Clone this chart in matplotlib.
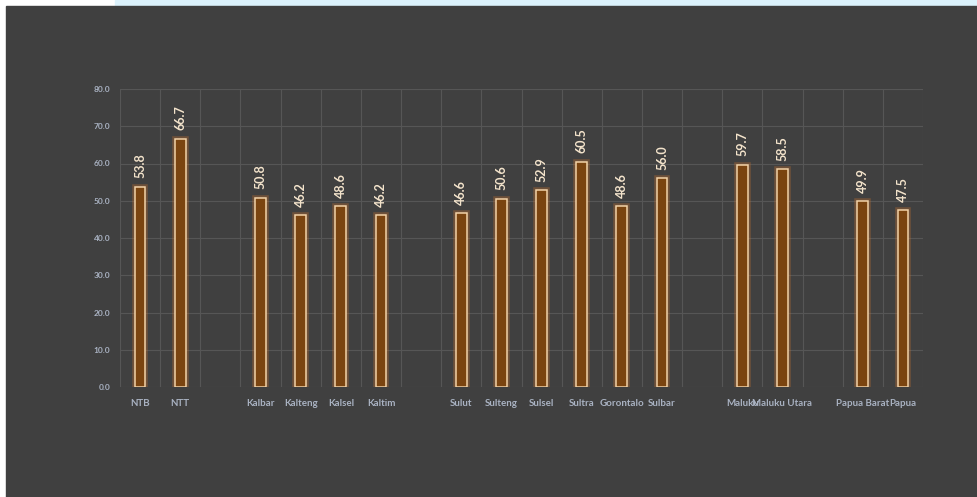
import numpy as np
import matplotlib
matplotlib.use("Agg")
import matplotlib.pyplot as plt
import matplotlib.patheffects as pe
from matplotlib.patches import Rectangle

# -----------------------------
# Data (empty strings = spacer columns between regions)
# -----------------------------
provinces = ["NTB", "NTT", "", "Kalbar", "Kalteng", "Kalsel", "Kaltim", "",
             "Sulut", "Sulteng", "Sulsel", "Sultra", "Gorontalo", "Sulbar", "",
             "Maluku", "Maluku Utara", "", "Papua Barat", "Papua"]
values = [53.8, 66.7, np.nan, 50.8, 46.2, 48.6, 46.2, np.nan,
          46.6, 50.6, 52.9, 60.5, 48.6, 56.0, np.nan,
          59.7, 58.5, np.nan, 49.9, 47.5]
y_ticks = [0, 10, 20, 30, 40, 50, 60, 70, 80]

# -----------------------------
# Style
# -----------------------------
plt.rcParams["font.family"] = ["Lato", "DejaVu Sans"]

bg = "#404040"
bar_fill = "#7A4410"
bar_edge = "#F3D3A8"
glow = "#C8732E"
grid_col = "#565656"
tick_col = "#A9B2C2"
label_col = "#F4E4CC"

fig = plt.figure(figsize=(9.78, 4.97), dpi=100, facecolor="white")

# light blue strip from the page behind + dark chart panel
fig.patches.append(Rectangle((115 / 978, 491 / 497), 1, 6 / 497,
                             transform=fig.transFigure, color="#DCF2FC", zorder=-10))
fig.patches.append(Rectangle((6 / 978, 0), 1, 491 / 497,
                             transform=fig.transFigure, color=bg, zorder=-10))

ax = fig.add_axes([120 / 978, 110 / 497, 803 / 978, 298 / 497])
ax.set_facecolor(bg)
ax.set_zorder(1)

x = np.arange(len(provinces))

bars = ax.bar(x, values, width=0.27, color=bar_fill, edgecolor=bar_edge,
              linewidth=1.1, zorder=3)
for b in bars:
    b.set_path_effects([pe.Stroke(linewidth=4, foreground=glow, alpha=0.35),
                        pe.Normal()])

for xi, v in zip(x, values):
    if np.isnan(v):
        continue
    ax.annotate(f"{v:.1f}", (xi, v), xytext=(0, 6), textcoords="offset points",
                rotation=90, ha="center", va="bottom", fontsize=9,
                fontweight="bold", color=label_col, zorder=4)

ax.set_xlim(-0.5, len(provinces) - 0.5)
ax.set_ylim(0, 80)

ax.set_xticks(x)
ax.set_xticklabels(provinces, fontsize=7, fontweight="bold", color=tick_col)
ax.set_xticks(np.arange(-0.5, len(provinces)), minor=True)
ax.set_yticks(y_ticks)
ax.set_yticklabels([f"{t:.1f}" for t in y_ticks], fontsize=6, fontweight="bold",
                   color=tick_col)

ax.tick_params(axis="x", which="both", length=0, pad=9)
ax.tick_params(axis="y", length=0, pad=7)

ax.grid(axis="y", color=grid_col, linewidth=0.8, zorder=0)
ax.grid(axis="x", which="minor", color=grid_col, linewidth=0.8, zorder=0)
ax.grid(axis="x", which="major", visible=False)

for s in ax.spines.values():
    s.set_visible(False)

fig.savefig("out.png", dpi=100, facecolor="white")
